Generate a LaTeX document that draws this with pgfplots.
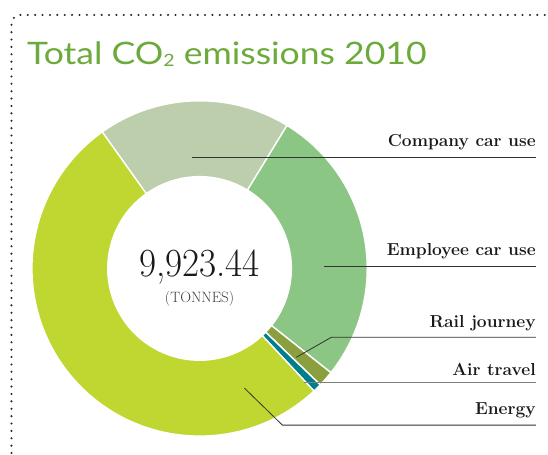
\documentclass[border=0pt]{standalone}
\usepackage{fontspec}
\usepackage{graphicx}
\usepackage{pgfplots}
\usepackage{pgfplotstable}
\pgfplotsset{compat=1.18}
\newfontfamily\titlefont{Lato}
\definecolor{ccompany}{HTML}{BCCEAB}
\definecolor{cemployee}{HTML}{8CC685}
\definecolor{crail}{HTML}{8C9F3E}
\definecolor{cair}{HTML}{007E8B}
\definecolor{cenergy}{HTML}{BFD730}
\definecolor{titlegreen}{HTML}{6BAA3B}
\pgfplotstableread{
name value
Company 1845
Employee 2674
Rail 152
Air 83
Energy 5169.44
}\emis
\pgfplotstablegetelem{0}{value}\of\emis\let\vA\pgfplotsretval
\pgfplotstablegetelem{1}{value}\of\emis\let\vB\pgfplotsretval
\pgfplotstablegetelem{2}{value}\of\emis\let\vC\pgfplotsretval
\pgfplotstablegetelem{3}{value}\of\emis\let\vD\pgfplotsretval
\pgfplotstablegetelem{4}{value}\of\emis\let\vE\pgfplotsretval
\pgfmathsetmacro\tot{\vA+\vB+\vC+\vD+\vE}
\pgfmathsetmacro\aZ{125.5}
\pgfmathsetmacro\aA{\aZ-\vA/\tot*360}
\pgfmathsetmacro\aB{\aA-\vB/\tot*360}
\pgfmathsetmacro\aC{\aB-\vC/\tot*360}
\pgfmathsetmacro\aD{\aC-\vD/\tot*360}
\pgfmathsetmacro\aE{\aD-\vE/\tot*360}
\newcommand\sector[3]{%
  \fill[#3, draw=white, line width=1.4pt] (axis cs:200,-269) ++(#1:168pt)
    arc[start angle=#1, end angle=#2, radius=168pt]
    -- ([shift={(#2:92pt)}]axis cs:200,-269)
    arc[start angle=#2, end angle=#1, radius=92pt] -- cycle;}
\begin{document}
\begin{tikzpicture}
\begin{axis}[
  scale only axis, width=548pt, height=454pt,
  xmin=0, xmax=548, ymin=-454, ymax=0,
  hide axis, clip=false]
\path (axis cs:0,0) rectangle (axis cs:548,-454);
% dotted frame
\draw[black!85, line width=2.3pt, line cap=round, dash pattern=on 0pt off 7.4pt, rounded corners=9pt]
  (axis cs:11.5,-454) -- (axis cs:11.5,-15) -- (axis cs:548,-15);
% title
\node[anchor=base west, text=titlegreen, inner sep=0pt,
  font=\titlefont\fontsize{31}{31}\selectfont] at (axis cs:27,-65)
  {\scalebox{1.15}[1]{Total CO\raisebox{-2pt}{\fontsize{17}{17}\selectfont 2} emissions 2010}};
% donut
\sector{\aZ}{\aA}{ccompany}
\sector{\aA}{\aB}{cemployee}
\sector{\aB}{\aC}{crail}
\sector{\aC}{\aD}{cair}
\sector{\aD}{\aE}{cenergy}
% centre text
\node[anchor=base, inner sep=0pt, text=black!90] at (axis cs:200,-277)
  {\scalebox{0.93}[1]{\fontsize{40}{40}\selectfont 9,923.44}};
\node[anchor=base, inner sep=0pt, text=black!75] at (axis cs:200,-303)
  {\fontsize{15}{15}\selectfont (TONNES)};
% leader lines
\draw[black!80, line width=0.8pt] (axis cs:192,-158) -- (axis cs:537,-158);
\draw[black!80, line width=0.8pt] (axis cs:325,-267) -- (axis cs:537,-267);
\draw[black!80, line width=0.8pt] (axis cs:297,-358) -- (axis cs:332,-338) -- (axis cs:537,-338);
\draw[black!50, line width=1.3pt] (axis cs:305,-383.5) -- (axis cs:537,-383.5);
\draw[black!80, line width=0.8pt] (axis cs:245,-389) -- (axis cs:283,-426) -- (axis cs:537,-426);
% labels
\node[anchor=base east, inner sep=0pt, text=black!90, font=\bfseries\fontsize{17.4}{17.4}\selectfont] at (axis cs:537,-146.5) {Company car use};
\node[anchor=base east, inner sep=0pt, text=black!90, font=\bfseries\fontsize{17.4}{17.4}\selectfont] at (axis cs:537,-256.5) {Employee car use};
\node[anchor=base east, inner sep=0pt, text=black!90, font=\bfseries\fontsize{17.4}{17.4}\selectfont] at (axis cs:537,-328) {Rail journey};
\node[anchor=base east, inner sep=0pt, text=black!90, font=\bfseries\fontsize{17.4}{17.4}\selectfont] at (axis cs:537,-376.5) {Air travel};
\node[anchor=base east, inner sep=0pt, text=black!90, font=\bfseries\fontsize{17.4}{17.4}\selectfont] at (axis cs:537,-415) {Energy};
\end{axis}
\end{tikzpicture}
\end{document}
